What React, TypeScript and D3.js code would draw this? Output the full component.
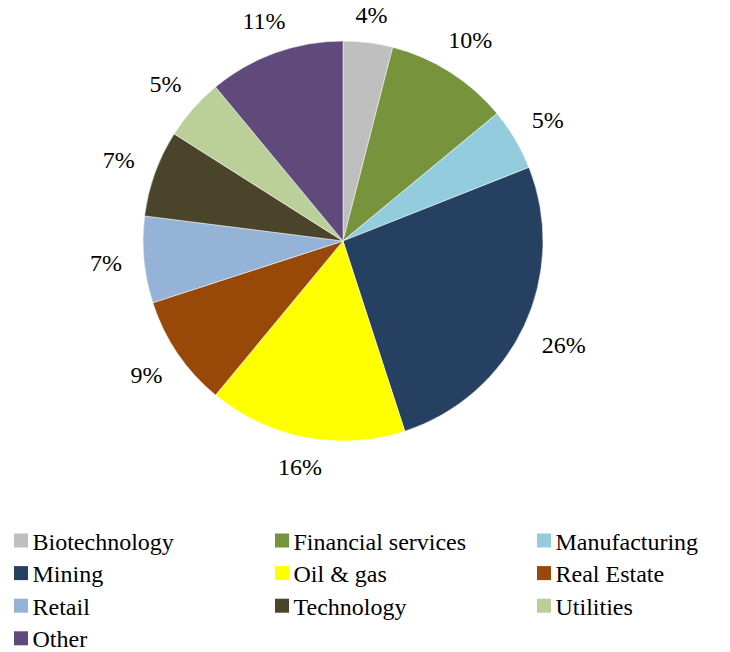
import React from "react";
import * as d3 from "d3";

const categories = ["Biotechnology", "Financial services", "Manufacturing", "Mining", "Oil & gas", "Real Estate", "Retail", "Technology", "Utilities", "Other"];
const values = [4, 10, 5, 26, 16, 9, 7, 7, 5, 11];
const colors = ["#BFBFBF", "#77933C", "#93CDDD", "#254061", "#FFFF00", "#984807", "#95B3D7", "#4A452A", "#BBD098", "#604A7B"];

const W = 730, H = 652;
const cx = 343, cy = 241, R = 200;
const FONT = "Liberation Serif";

export default function App() {
  const pie = d3.pie<number>().sort(null).value((d) => d)(values);
  const arc = d3.arc<d3.PieArcDatum<number>>().innerRadius(0).outerRadius(R);
  const total = d3.sum(values);
  const fmt = (v: number) => `${Math.round((v / total) * 100)}%`;

  const legendCols = [14, 275, 537];
  const legendRow0 = 540.5, legendDy = 32.6;

  return (
    <svg width={W} height={H} style={{ position: "absolute", left: 0, top: 0 }}>
      <rect width={W} height={H} fill="#fff" />
      <g transform={`translate(${cx},${cy})`}>
        {pie.map((p, i) => (
          <path key={i} d={arc(p) || ""} fill={colors[i]} stroke="#fff" strokeWidth={0.5} />
        ))}
        {pie.map((p, i) => {
          const a = (p.startAngle + p.endAngle) / 2;
          const s = Math.sin(a), c = -Math.cos(a);
          const label = fmt(p.value);
          const hw = (label.length - 1) * 6.25 + 10.4;
          const hh = 5;
          const r = R + 21 + hw * Math.abs(s) + hh * Math.abs(c);
          return (
            <text key={i} x={r * s} y={r * c + 8} textAnchor="middle" fontSize={24} fill="#000" style={{ fontFamily: FONT }}>
              {label}
            </text>
          );
        })}
      </g>
      {categories.map((cat, i) => {
        const col = i % 3, row = Math.floor(i / 3);
        const x = legendCols[col], y = legendRow0 + row * legendDy;
        return (
          <g key={cat}>
            <rect x={x} y={y - 7} width={14} height={14} fill={colors[i]} />
            <text x={x + 18.5} y={y + 9} fontSize={24} fill="#000" style={{ fontFamily: FONT }}>{cat}</text>
          </g>
        );
      })}
    </svg>
  );
}
